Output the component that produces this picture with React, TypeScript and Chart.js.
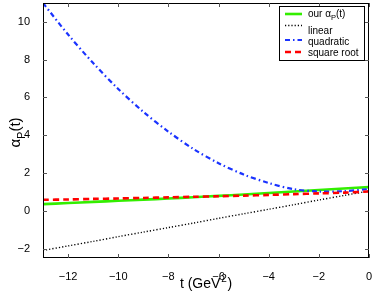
import React, { useEffect, useRef } from "react";
import { Chart, registerables } from "chart.js";

Chart.register(...registerables);

const tValues = [-13, -12, -11, -10, -9, -8, -7, -6, -5, -4, -3, -2, -1, 0];
const ourAlpha = [0.35, 0.41, 0.47, 0.53, 0.59, 0.65, 0.72, 0.79, 0.86, 0.94, 1.02, 1.1, 1.18, 1.25];
const linearAlpha = [-2.1, -1.86, -1.62, -1.37, -1.13, -0.89, -0.65, -0.4, -0.16, 0.08, 0.32, 0.57, 0.81, 1.05];
const quadraticAlpha = [11.0, 9.33, 7.82, 6.45, 5.24, 4.19, 3.27, 2.52, 1.92, 1.47, 1.14, 1.02, 1.04, 1.15];
const sqrtAlpha = [0.58, 0.6, 0.63, 0.65, 0.68, 0.71, 0.74, 0.77, 0.8, 0.84, 0.88, 0.92, 0.96, 1.02];
const xTicks = [-12, -10, -8, -6, -4, -2, 0];
const yTicks = [-2, 0, 2, 4, 6, 8, 10];

const FONT = "'Liberation Sans', Arial, sans-serif";

const seriesStyle = [
  { label: "our", data: ourAlpha, color: "#33ee00", width: 2.6, dash: [] as number[], order: 4 },
  { label: "linear", data: linearAlpha, color: "#000000", width: 1.4, dash: [1.2, 2], order: 3 },
  { label: "quadratic", data: quadraticAlpha, color: "#1a33ff", width: 2.2, dash: [5, 3, 1.5, 3], order: 2 },
  { label: "square root", data: sqrtAlpha, color: "#ff0000", width: 2.6, dash: [6, 4], order: 1 },
];

const framePlugin = {
  id: "frame",
  afterDraw(chart: any) {
    const { ctx, chartArea } = chart;
    const { left, right, top, bottom } = chartArea;
    const xs = chart.scales.x;
    const ys = chart.scales.y;
    ctx.save();
    ctx.strokeStyle = "#000";
    ctx.lineWidth = 1;
    ctx.setLineDash([]);
    ctx.strokeRect(left + 0.5, top + 0.5, right - left - 1, bottom - top - 1);
    ctx.strokeStyle = "#555";
    for (const v of xTicks) {
      const px = Math.round(xs.getPixelForValue(v)) + 0.5;
      ctx.beginPath();
      ctx.moveTo(px, bottom);
      ctx.lineTo(px, bottom - 4);
      ctx.moveTo(px, top);
      ctx.lineTo(px, top + 4);
      ctx.stroke();
    }
    for (const v of yTicks) {
      const py = Math.round(ys.getPixelForValue(v)) + 0.5;
      ctx.beginPath();
      ctx.moveTo(left, py);
      ctx.lineTo(left + 4, py);
      ctx.moveTo(right, py);
      ctx.lineTo(right - 4, py);
      ctx.stroke();
    }

    // axis titles
    ctx.fillStyle = "#000";
    ctx.textBaseline = "alphabetic";
    ctx.textAlign = "left";
    const xt1 = "t (GeV";
    const xt2 = "2";
    const xt3 = ")";
    ctx.font = `14px ${FONT}`;
    const w1 = ctx.measureText(xt1).width + 1;
    const w3 = ctx.measureText(xt3).width;
    ctx.font = `10px ${FONT}`;
    const w2 = ctx.measureText(xt2).width + 0.5;
    const total = w1 + w2 + w3;
    const x0 = (left + right) / 2 - total / 2;
    const yb = 288;
    ctx.font = `14px ${FONT}`;
    ctx.fillText(xt1, x0, yb);
    ctx.font = `10px ${FONT}`;
    ctx.fillText(xt2, x0 + w1, yb - 6);
    ctx.font = `14px ${FONT}`;
    ctx.fillText(xt3, x0 + w1 + w2, yb);

    // y title (rotated)
    ctx.save();
    ctx.translate(20, (top + bottom) / 2 + 2);
    ctx.rotate(-Math.PI / 2);
    ctx.font = `15px ${FONT}`;
    const a = "\u03B1";
    const p = "P";
    const r = "(t)";
    const wa = ctx.measureText(a).width;
    const wr = ctx.measureText(r).width;
    ctx.font = `11px ${FONT}`;
    const wp = ctx.measureText(p).width;
    const tw = wa + wp + wr;
    const sx = -tw / 2;
    ctx.font = `15px ${FONT}`;
    ctx.fillText(a, sx, 0);
    ctx.font = `11px ${FONT}`;
    ctx.fillText(p, sx + wa, 5);
    ctx.font = `15px ${FONT}`;
    ctx.fillText(r, sx + wa + wp, 0);
    ctx.restore();

    // legend
    const lx = 279.5;
    const ly = 6.5;
    const lw = 85;
    const lh = 54;
    ctx.fillStyle = "#fff";
    ctx.fillRect(lx, ly, lw, lh);
    ctx.strokeStyle = "#000";
    ctx.lineWidth = 1;
    ctx.strokeRect(lx, ly, lw, lh);
    const lineY = [14, 25.5, 40, 52];
    const textY = [14, 31, 42, 53];
    seriesStyle.forEach((s, i) => {
      const yy = lineY[i];
      ctx.strokeStyle = s.color;
      ctx.lineWidth = s.width;
      ctx.setLineDash(s.dash);
      ctx.beginPath();
      ctx.moveTo(285, yy);
      ctx.lineTo(302, yy);
      ctx.stroke();
      ctx.setLineDash([]);
      ctx.fillStyle = "#000";
      ctx.textBaseline = "middle";
      ctx.textAlign = "left";
      const ty = textY[i];
      if (i === 0) {
        ctx.font = `10px ${FONT}`;
        const s1 = "our \u03B1";
        ctx.fillText(s1, 308, ty);
        const ws1 = ctx.measureText(s1).width;
        ctx.font = `7.5px ${FONT}`;
        ctx.fillText("P", 308 + ws1, ty + 4);
        const wp2 = ctx.measureText("P").width;
        ctx.font = `10px ${FONT}`;
        ctx.fillText("(t)", 308 + ws1 + wp2, ty);
      } else {
        ctx.font = `10px ${FONT}`;
        ctx.fillText(s.label, 308, ty);
      }
    });
    ctx.restore();
  },
};

export default function App() {
  const canvasRef = useRef<HTMLCanvasElement | null>(null);

  useEffect(() => {
    const canvas = canvasRef.current;
    if (!canvas) return;
    const chart = new Chart(canvas, {
      type: "line",
      data: {
        datasets: seriesStyle.map((s) => ({
          label: s.label,
          data: tValues.map((t, i) => ({ x: t, y: s.data[i] })),
          borderColor: s.color,
          borderWidth: s.width,
          borderDash: s.dash,
          pointRadius: 0,
          tension: 0.3,
          fill: false,
          order: s.order,
        })),
      },
      options: {
        animation: false,
        responsive: false,
        maintainAspectRatio: false,
        layout: { padding: { top: 3, right: 5, left: 0, bottom: 0 } },
        plugins: { legend: { display: false }, tooltip: { enabled: false } },
        scales: {
          x: {
            type: "linear",
            min: -13,
            max: 0,
            afterBuildTicks: (scale: any) => {
              scale.ticks = xTicks.map((v) => ({ value: v }));
            },
            afterFit: (scale: any) => {
              scale.height = 35;
              scale.paddingLeft = 0;
              scale.paddingRight = 0;
              scale.paddingTop = 0;
              scale.paddingBottom = 0;
            },
            grid: { display: false },
            border: { display: false },
            ticks: {
              font: { family: FONT, size: 11 },
              color: "#000",
              padding: 4,
              maxRotation: 0,
              callback: (v: any) => String(v).replace("-", "\u2212"),
            },
          },
          y: {
            type: "linear",
            min: -2.5,
            max: 11,
            afterBuildTicks: (scale: any) => {
              scale.ticks = yTicks.map((v) => ({ value: v }));
            },
            afterFit: (scale: any) => {
              scale.width = 43;
              scale.paddingLeft = 0;
              scale.paddingRight = 0;
              scale.paddingTop = 0;
              scale.paddingBottom = 0;
            },
            grid: { display: false },
            border: { display: false },
            ticks: {
              font: { family: FONT, size: 11 },
              color: "#000",
              padding: 5,
              callback: (v: any) => String(v).replace("-", "\u2212"),
            },
          },
        },
      },
      plugins: [framePlugin],
    });
    return () => chart.destroy();
  }, []);

  return (
    <div style={{ position: "fixed", left: 0, top: 0, width: 374, height: 293, background: "#fff" }}>
      <canvas ref={canvasRef} width={374} height={293} style={{ width: 374, height: 293 }} />
    </div>
  );
}
